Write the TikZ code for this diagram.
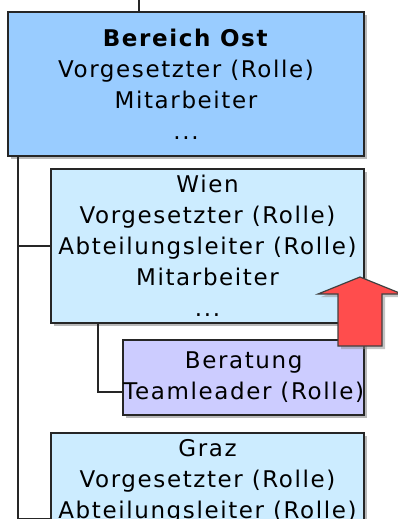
\documentclass[tikz,border=0pt]{standalone}
\usepackage{fontspec}
\newfontfamily\orgfont{DejaVu Sans}[LetterSpace=7]
\usetikzlibrary{positioning,shadows}
\definecolor{ostblue}{HTML}{99CCFF}
\definecolor{cityblue}{HTML}{CCECFF}
\definecolor{teamlilac}{HTML}{CCCCFF}
\definecolor{markred}{HTML}{FF4D4D}
\begin{document}
\begin{tikzpicture}
        [
            x = 1pt, y = -1pt,
            unit/.style = {
                draw=black!85, line width=2pt, align=center, inner sep=0pt,
                font=\orgfont\fontsize{23}{31}\selectfont,
                drop shadow={shadow xshift=3pt, shadow yshift=-3pt, fill=black!55}},
            link/.style = {draw=black!85, line width=2pt},
            marker/.style = {fill=markred, draw=black!75, line width=1.2pt,
                drop shadow={shadow xshift=3pt, shadow yshift=-3pt, fill=black!45}}
        ]
        \useasboundingbox (0,0) rectangle (398,519);
        \clip (0,0) rectangle (398,519);
        \node [unit, fill=ostblue, anchor=north west, minimum width=356pt, minimum height=144pt]
            (Ost) at (7,11) {\textbf{Bereich Ost}\\Vorgesetzter (Rolle)\\Mitarbeiter\\...};
        \node [unit, fill=cityblue, minimum width=313pt, minimum height=154pt]
            (Wien) [below=11pt of Ost.south east, anchor=north east]
            {Wien\\Vorgesetzter (Rolle)\\Abteilungsleiter (Rolle)\\Mitarbeiter\\...};
        \node [unit, fill=teamlilac, minimum width=240pt, minimum height=75pt]
            (Beratung) [below=15pt of Wien.south east, anchor=north east]
            {Beratung\\Teamleader (Rolle)};
        \node [unit, fill=cityblue, minimum width=313pt, inner ysep=6pt, text depth=100pt]
            (Graz) [below=16pt of Beratung.south east, anchor=north east]
            {Graz\\Vorgesetzter (Rolle)\\Abteilungsleiter (Rolle)};
        % tree lines
        \coordinate (Top) at (139,0);
        \coordinate (Trunk) at (18,519);
        \coordinate (Branch) at (98,0);
        \draw [link] (Top) -- (Top |- Ost.north);
        \draw [link] (Trunk |- Ost.south) -- (Trunk);
        \draw [link] (Trunk |- Wien.west) -- (Wien.west);
        \draw [link] (Trunk |- Graz.north west) ++(0,87) -- ([yshift=-87pt]Graz.north west);
        \draw [link] (Branch |- Wien.south) |- ([yshift=-53pt]Beratung.north west);
        % red marker
        \path [marker] (338,346) -- (338,294) -- (318,294) -- (360,277)
            -- (402,294) -- (382,294) -- (382,346) -- cycle;
    \end{tikzpicture}
\end{document}
